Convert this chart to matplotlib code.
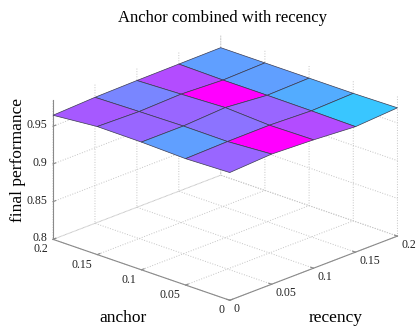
import numpy as np
import matplotlib
matplotlib.use("Agg")
import matplotlib.pyplot as plt
from matplotlib import cm, colors
from mpl_toolkits.mplot3d import proj3d

# parameter grids
anchor = [0.0, 0.05, 0.1, 0.15, 0.2]
recency = [0.0, 0.05, 0.1, 0.15, 0.2]

# final performance, rows = anchor, columns = recency
performance = np.array([
    [0.9693, 0.9725, 0.9701, 0.9663, 0.9700],
    [0.9675, 0.9689, 0.9693, 0.9671, 0.9690],
    [0.9693, 0.9693, 0.9725, 0.9675, 0.9690],
    [0.9697, 0.9683, 0.9701, 0.9675, 0.9690],
    [0.9645, 0.9670, 0.9680, 0.9685, 0.9690],
])

z_ticks = [0.8, 0.85, 0.9, 0.95]
z_ticklabels = ["0.8", "0.85", "0.9", "0.95"]
xy_ticks = [0, 0.05, 0.1, 0.15, 0.2]
xy_ticklabels = ["0", "0.05", "0.1", "0.15", "0.2"]

plt.rcParams["font.family"] = ["Liberation Serif", "DejaVu Serif"]
plt.rcParams["grid.color"] = "#c4c4c4"
plt.rcParams["grid.linestyle"] = ":"
plt.rcParams["grid.linewidth"] = 0.7

W, H, DPI = 4.16, 3.26, 100
fig = plt.figure(figsize=(W, H), dpi=DPI)
ax = fig.add_axes([0.0098, -0.08, 1.04, 1.1], projection="3d")
ax.set_proj_type("ortho")
ax.view_init(elev=21.3, azim=-136.5)
ax.set_box_aspect((1, 1, 0.615), zoom=1.017)

R, A = np.meshgrid(recency, anchor)
norm = colors.Normalize(vmin=performance.min(), vmax=performance.max())
fcol = cm.cool(norm(performance))
ax.plot_surface(R, A, performance, facecolors=fcol, shade=False,
                edgecolor="#3a3a50", linewidth=0.5, antialiased=True,
                rstride=1, cstride=1)

ax.set_xlim(0, 0.2)
ax.set_ylim(0, 0.2)
ax.set_zlim(0.8, 0.985)
ax.set_xticks(xy_ticks)
ax.set_yticks(xy_ticks)
ax.set_zticks(z_ticks)
ax.set_xticklabels([])
ax.set_yticklabels([])
ax.set_zticklabels([])

for axis in (ax.xaxis, ax.yaxis, ax.zaxis):
    axis.pane.set_fill(False)
    axis.pane.set_edgecolor("none")
    axis.line.set_color("#8a8a8a")
    axis.line.set_linewidth(0.8)
    axis._axinfo["grid"].update(color="#c4c4c4", linestyle=":", linewidth=0.7)
    axis._axinfo["tick"]["inward_factor"] = 0.0
    axis._axinfo["tick"]["outward_factor"] = 0.2
    axis.set_tick_params(colors="#8a8a8a")

# project tick positions to pixels so the labels can sit beside each edge
fig.canvas.draw()
M = ax.get_proj()


def to_fig(x, y, z, dx, dy):
    px, py, _ = proj3d.proj_transform(x, y, z, M)
    sx, sy = ax.transData.transform((px, py))
    return (sx + dx) / (W * DPI), (sy + dy) / (H * DPI)


tick_fs = 8.5
for v, s in zip(xy_ticks, xy_ticklabels):
    fx, fy = to_fig(0, v, 0.8, -5, -10)
    fig.text(fx, fy, s, ha="right", va="center", fontsize=tick_fs,
             color="#222222")
    fx, fy = to_fig(v, 0, 0.8, 4, -9)
    fig.text(fx, fy, s, ha="left", va="center", fontsize=tick_fs,
             color="#222222")
for v, s in zip(z_ticks, z_ticklabels):
    fx, fy = to_fig(0, 0.2, v, -6, 1)
    fig.text(fx, fy, s, ha="right", va="center", fontsize=tick_fs,
             color="#222222")

fig.text(0.535, 0.945, "Anchor combined with recency", ha="center", va="center",
         fontsize=12)
fig.text(0.043, 0.51, "final performance", ha="center", va="center",
         rotation=90, fontsize=12.5)
fig.text(0.296, 0.024, "anchor", ha="center", va="center", fontsize=12.5)
fig.text(0.808, 0.026, "recency", ha="center", va="center", fontsize=12.5)

fig.savefig("out.png", dpi=DPI)
